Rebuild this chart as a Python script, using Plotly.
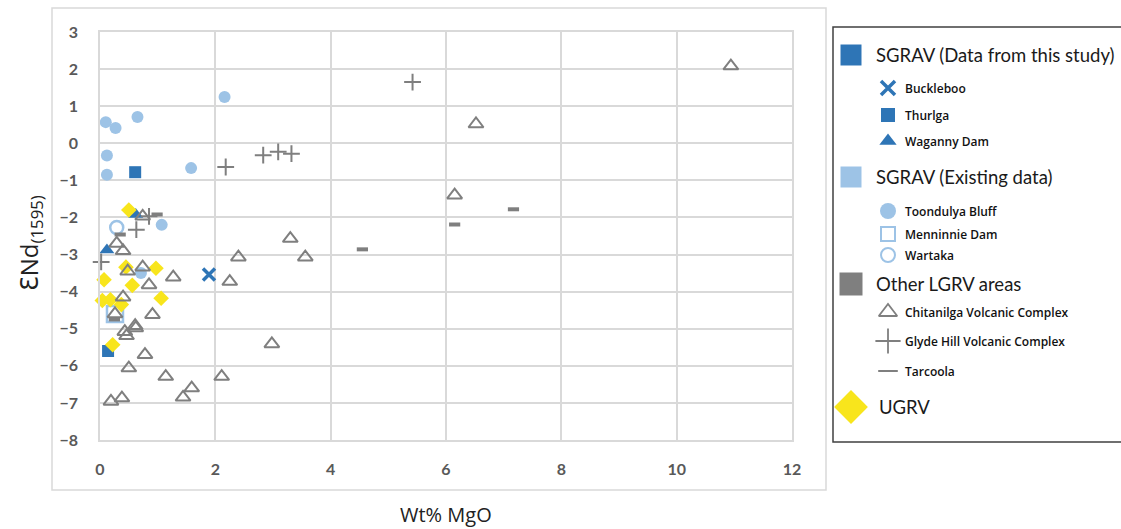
import plotly.graph_objects as go

# ---- data: MgO (wt%) vs epsilon-Nd at 1595 Ma ----
buckleboo_mgo = [1.89]
buckleboo_end = [-3.54]

thurlga_mgo = [0.61, 0.14]
thurlga_end = [-0.78, -5.60]

waganny_mgo = [0.62, 0.12]
waganny_end = [-1.92, -2.88]

toondulya_mgo = [0.10, 0.27, 0.65, 0.12, 0.12, 1.58, 2.16, 1.07, 0.71]
toondulya_end = [0.57, 0.41, 0.71, -0.33, -0.85, -0.67, 1.25, -2.20, -3.50]

menninnie_mgo = [0.26]
menninnie_end = [-4.60]

wartaka_mgo = [0.29]
wartaka_end = [-2.27]

ugrv_mgo = [0.50, 0.45, 0.97, 0.07, 0.56, 0.04, 0.18, 0.37, 1.06, 0.22]
ugrv_end = [-1.80, -3.34, -3.37, -3.68, -3.83, -4.24, -4.22, -4.35, -4.18, -5.43]

chitanilga_mgo = [0.74, 0.29, 0.40, 2.40, 0.48, 0.74, 1.27, 2.25, 0.85, 0.40,
                  0.26, 0.91, 0.61, 0.62, 0.43, 0.46, 0.78, 0.50, 1.14, 2.11,
                  1.59, 1.44, 0.19, 0.38, 2.98, 6.52, 6.15, 3.30, 3.56, 10.94]
chitanilga_end = [-1.97, -2.70, -2.90, -3.07, -3.45, -3.34, -3.61, -3.73, -3.82, -4.15,
                  -4.60, -4.62, -4.92, -4.98, -5.08, -5.19, -5.70, -6.06, -6.29, -6.29,
                  -6.60, -6.85, -6.96, -6.87, -5.41, 0.52, -1.40, -2.57, -3.07, 2.08]

glyde_mgo = [2.18, 2.83, 3.09, 3.32, 5.42, 0.85, 0.63, 0.02]
glyde_end = [-0.64, -0.32, -0.23, -0.28, 1.65, -1.97, -2.33, -3.20]

tarcoola_mgo = [0.99, 0.35, 4.55, 6.15, 7.17, 0.25]
tarcoola_end = [-1.92, -2.46, -2.86, -2.19, -1.78, -4.75]

# legend wording
group_titles = ["SGRAV (Data from this study)", "SGRAV (Existing data)",
                "Other LGRV areas", "UGRV"]
this_study_names = ["Buckleboo", "Thurlga", "Waganny Dam"]
existing_names = ["Toondulya Bluff", "Menninnie Dam", "Wartaka"]
lgrv_names = ["Chitanilga Volcanic Complex", "Glyde Hill Volcanic Complex", "Tarcoola"]

x_title = "Wt% MgO"
y_title = "<span style='font-family:DejaVu Sans'>Ɛ</span>Nd<sub>(1595)</sub>"

# ---- styles ----
W, H = 1121, 529
DARK_BLUE = "#2E75B6"
LIGHT_BLUE = "#9DC3E6"
GREY = "#7F7F7F"
YELLOW = "#F8E51C"
GRID = "#D9D9D9"


def px(x):
    return x / W


def py(y):
    return 1 - y / H


styles = {
    "Buckleboo": dict(symbol="x-thin", size=12, line=dict(color=DARK_BLUE, width=3.5), color=DARK_BLUE),
    "Thurlga": dict(symbol="square", size=12, color=DARK_BLUE, line=dict(width=0)),
    "Waganny Dam": dict(symbol="triangle-up", size=13, color=DARK_BLUE, line=dict(width=0)),
    "Toondulya Bluff": dict(symbol="circle", size=12, color=LIGHT_BLUE, line=dict(width=0)),
    "Menninnie Dam": dict(symbol="square-open", size=16, color=LIGHT_BLUE, line=dict(color=LIGHT_BLUE, width=2.5)),
    "Wartaka": dict(symbol="circle-open", size=13, color=LIGHT_BLUE, line=dict(color=LIGHT_BLUE, width=2.5)),
    "UGRV": dict(symbol="diamond", size=12, color=YELLOW, line=dict(width=0)),
    "Chitanilga Volcanic Complex": dict(symbol="triangle-up-open", size=13, color=GREY, line=dict(color=GREY, width=2)),
    "Glyde Hill Volcanic Complex": dict(symbol="cross-thin", size=12, color=GREY, line=dict(color=GREY, width=2)),
    "Tarcoola": dict(symbol="line-ew", size=8, color=GREY, line=dict(color=GREY, width=4)),
}

series = [
    ("Thurlga", thurlga_mgo, thurlga_end),
    ("Waganny Dam", waganny_mgo, waganny_end),
    ("Toondulya Bluff", toondulya_mgo, toondulya_end),
    ("Menninnie Dam", menninnie_mgo, menninnie_end),
    ("Wartaka", wartaka_mgo, wartaka_end),
    ("UGRV", ugrv_mgo, ugrv_end),
    ("Chitanilga Volcanic Complex", chitanilga_mgo, chitanilga_end),
    ("Glyde Hill Volcanic Complex", glyde_mgo, glyde_end),
    ("Tarcoola", tarcoola_mgo, tarcoola_end),
    ("Buckleboo", buckleboo_mgo, buckleboo_end),
]

fig = go.Figure()

for name, xs, ys in series:
    fig.add_trace(go.Scatter(x=xs, y=ys, mode="markers", name=name,
                             marker=styles[name], showlegend=False,
                             xaxis="x", yaxis="y", cliponaxis=False))

# ---- custom legend panel drawn in its own pixel-scaled axes ----
HEAD_X, HEAD_TEXT_X = 851, 874
ITEM_X, ITEM_TEXT_X = 888, 903
legend_rows = [
    ("head", group_titles[0], dict(symbol="square", size=21, color=DARK_BLUE, line=dict(width=0)), 55),
    ("item", this_study_names[0], dict(styles["Buckleboo"], size=14), 88),
    ("item", this_study_names[1], dict(styles["Thurlga"], size=14), 115),
    ("item", this_study_names[2], dict(styles["Waganny Dam"], size=15), 141),
    ("head", group_titles[1], dict(symbol="square", size=21, color=LIGHT_BLUE, line=dict(width=0)), 177),
    ("item", existing_names[0], dict(styles["Toondulya Bluff"], size=16), 211),
    ("item", existing_names[1], dict(styles["Menninnie Dam"], size=14, line=dict(color=LIGHT_BLUE, width=2)), 234),
    ("item", existing_names[2], dict(styles["Wartaka"], size=14, line=dict(color=LIGHT_BLUE, width=2)), 255),
    ("head", group_titles[2], dict(symbol="square", size=23, color=GREY, line=dict(width=0)), 284),
    ("item", lgrv_names[0], dict(styles["Chitanilga Volcanic Complex"], size=16, line=dict(color=GREY, width=1.8)), 312),
    ("item", lgrv_names[1], dict(styles["Glyde Hill Volcanic Complex"], size=18, line=dict(color=GREY, width=1.8)), 341),
    ("item", lgrv_names[2], dict(styles["Tarcoola"], size=14, line=dict(color=GREY, width=2)), 371),
    ("head", group_titles[3], dict(symbol="diamond", size=26, color=YELLOW, line=dict(width=0)), 407),
]

annotations = []
for kind, label, mk, ypix in legend_rows:
    mx = HEAD_X if kind == "head" else ITEM_X
    tx = HEAD_TEXT_X if kind == "head" else ITEM_TEXT_X
    if label == "UGRV":
        tx = 877
    fig.add_trace(go.Scatter(x=[mx], y=[ypix], mode="markers", marker=mk,
                             showlegend=False, xaxis="x2", yaxis="y2",
                             hoverinfo="skip", cliponaxis=False))
    if kind == "head":
        font = dict(family="Lato", size=18.5, color="#1a1a1a")
    else:
        font = dict(family="Open Sans", size=12, color="#111111", weight=600)
    annotations.append(dict(x=tx, y=ypix, xref="x2", yref="y2", text=label,
                            showarrow=False, xanchor="left", yanchor="middle",
                            font=font))

# axis titles
annotations.append(dict(x=px(446), y=py(514), xref="paper", yref="paper",
                        text=x_title, showarrow=False, xanchor="center", yanchor="middle",
                        font=dict(family="Open Sans", size=20, color="#222222")))
annotations.append(dict(x=px(30), y=py(243), xref="paper", yref="paper",
                        text=y_title, showarrow=False, textangle=-90,
                        xanchor="center", yanchor="middle",
                        font=dict(family="Open Sans", size=24, color="#222222")))

shapes = [
    # chart-area frame
    dict(type="rect", xref="paper", yref="paper", x0=px(52), x1=px(826), y0=py(490), y1=py(8),
         line=dict(color=GRID, width=1.5), fillcolor="rgba(0,0,0,0)", layer="below"),
    # legend frame (runs past the right edge of the page)
    dict(type="rect", xref="paper", yref="paper", x0=px(833), x1=1.1, y0=py(442), y1=py(27),
         line=dict(color="#404040", width=1.5), fillcolor="rgba(0,0,0,0)"),
]

tickfont = dict(family="Lato", size=16, color="#595959", weight="bold")

fig.update_layout(
    width=W, height=H,
    margin=dict(l=0, r=0, t=0, b=0, autoexpand=False),
    paper_bgcolor="white", plot_bgcolor="white",
    showlegend=False,
    xaxis=dict(domain=[px(100), px(792)], range=[0, 12], dtick=2, tick0=0,
               showgrid=True, gridcolor=GRID, gridwidth=1.5,
               showline=True, linecolor=GRID, linewidth=1.5, mirror=True,
               zeroline=False, ticks="", tickfont=tickfont, ticklabelstandoff=14,
               fixedrange=True, anchor="y", automargin=False),
    yaxis=dict(domain=[py(440), py(32)], range=[-8, 3], dtick=1, tick0=0,
               showgrid=True, gridcolor=GRID, gridwidth=1.5,
               showline=True, linecolor=GRID, linewidth=1.5, mirror=True,
               zeroline=False, ticks="", tickfont=tickfont, ticklabelstandoff=17,
               fixedrange=True, anchor="x", automargin=False),
    xaxis2=dict(domain=[px(833), 1.0], range=[833, 1121], visible=False,
                fixedrange=True, anchor="y2"),
    yaxis2=dict(domain=[py(442), py(27)], range=[442, 27], visible=False,
                fixedrange=True, anchor="x2"),
    annotations=annotations,
    shapes=shapes,
)

fig.write_html("out.html", config={"displayModeBar": False},
               post_script="document.body.style.margin='0';document.body.style.overflow='hidden';")
